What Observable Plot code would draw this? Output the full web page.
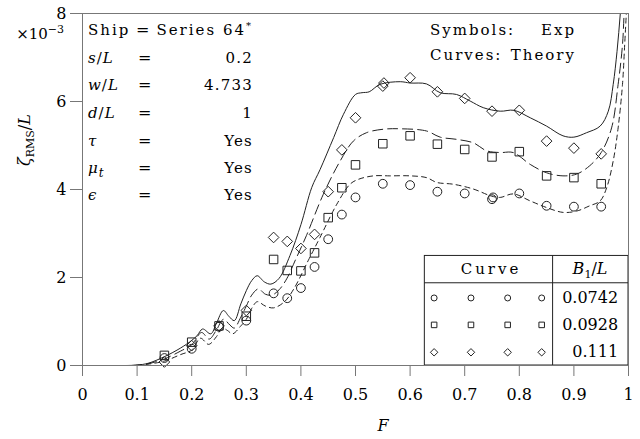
<!DOCTYPE html>
<html><head><meta charset="utf-8">
<script src="https://cdn.jsdelivr.net/npm/d3@7"></script>
<script src="https://cdn.jsdelivr.net/npm/@observablehq/plot@0.6"></script>
<style>body{margin:0;background:#fff} svg{display:block}</style>
</head><body><div id="chart"></div>
<script>
// ---- tick values / labels ----
const xTicks = [0, 0.1, 0.2, 0.3, 0.4, 0.5, 0.6, 0.7, 0.8, 0.9, 1];
const xTickLabels = ["0", "0.1", "0.2", "0.3", "0.4", "0.5", "0.6", "0.7", "0.8", "0.9", "1"];
const yTicks = [0, 2, 4, 6, 8];
const yTickLabels = ["0", "2", "4", "6", "8"];

// ---- legend (B1/L per series) ----
const seriesB1 = ["0.0742", "0.0928", "0.111"];
const seriesSymbols = ["circle", "square", "diamond2"];

// ---- experimental points (x 1e-3) ----
const expF_c = [0.15, 0.2, 0.25, 0.3, 0.35, 0.375, 0.4, 0.425, 0.45, 0.475, 0.5, 0.55, 0.6, 0.65, 0.7, 0.75, 0.752, 0.8, 0.85, 0.9, 0.95];
const expY_c = [0.17, 0.38, 0.88, 1.02, 1.64, 1.53, 1.76, 2.24, 2.87, 3.43, 3.82, 4.13, 4.10, 3.95, 3.91, 3.78, 3.82, 3.91, 3.63, 3.61, 3.61];
const expF_s = [0.15, 0.2, 0.25, 0.3, 0.35, 0.375, 0.4, 0.425, 0.45, 0.475, 0.5, 0.55, 0.6, 0.65, 0.7, 0.75, 0.8, 0.85, 0.9, 0.95];
const expY_s = [0.23, 0.53, 0.90, 1.12, 2.41, 2.16, 2.15, 2.56, 3.36, 4.04, 4.56, 5.04, 5.22, 5.03, 4.91, 4.74, 4.86, 4.31, 4.27, 4.13];
const expF_d = [0.15, 0.2, 0.25, 0.3, 0.35, 0.375, 0.4, 0.425, 0.45, 0.475, 0.5, 0.55, 0.552, 0.6, 0.65, 0.7, 0.75, 0.8, 0.85, 0.9, 0.95];
const expY_d = [0.08, 0.45, 0.90, 1.25, 2.91, 2.82, 2.66, 2.98, 3.95, 4.90, 5.63, 6.35, 6.42, 6.54, 6.22, 6.07, 5.78, 5.80, 5.10, 4.94, 4.81];

// ---- theory curves (x 1e-3) ----
const thF_c = [0.1, 0.12, 0.15, 0.18, 0.2, 0.216, 0.231, 0.245, 0.256, 0.265, 0.275, 0.29, 0.3, 0.31, 0.32, 0.335, 0.35, 0.37, 0.387, 0.414, 0.435, 0.466, 0.49, 0.505, 0.533, 0.563, 0.6, 0.63, 0.649, 0.679, 0.716, 0.749, 0.765, 0.789, 0.82, 0.85, 0.88, 0.905, 0.929, 0.948, 0.96, 0.972, 0.981, 0.989, 0.993, 0.996, 0.998];
const thY_c = [0, 0.03, 0.1, 0.25, 0.35, 0.62, 0.48, 0.65, 0.85, 0.8, 0.72, 0.9, 1.05, 1.3, 1.45, 1.35, 1.31, 1.45, 1.74, 2.4, 2.91, 3.67, 4.12, 4.23, 4.31, 4.31, 4.31, 4.27, 4.16, 4.12, 4.01, 3.85, 3.82, 3.9, 3.74, 3.59, 3.48, 3.51, 3.63, 3.74, 4.04, 4.65, 5.4, 6.39, 7.29, 8.0, 8.5];
const thF_s = [0.09, 0.1, 0.12, 0.15, 0.18, 0.2, 0.218, 0.232, 0.245, 0.258, 0.27, 0.278, 0.29, 0.3, 0.31, 0.322, 0.335, 0.347, 0.36, 0.374, 0.39, 0.41, 0.441, 0.472, 0.496, 0.52, 0.551, 0.582, 0.63, 0.655, 0.685, 0.716, 0.74, 0.765, 0.789, 0.82, 0.85, 0.88, 0.905, 0.929, 0.95, 0.969, 0.981, 0.989, 0.992, 0.995];
const thY_s = [0, 0.01, 0.04, 0.15, 0.33, 0.47, 0.75, 0.6, 0.8, 1.05, 0.92, 0.85, 1.1, 1.35, 1.6, 1.74, 1.62, 1.6, 1.72, 1.97, 2.4, 2.95, 3.89, 4.65, 5.1, 5.29, 5.37, 5.38, 5.33, 5.19, 5.14, 5.06, 4.88, 4.84, 4.84, 4.57, 4.38, 4.31, 4.35, 4.54, 4.84, 5.4, 6.39, 7.29, 8.0, 8.6];
const thF_d = [0.08, 0.1, 0.12, 0.15, 0.18, 0.2, 0.21, 0.22, 0.235, 0.245, 0.258, 0.268, 0.278, 0.29, 0.3, 0.31, 0.32, 0.333, 0.345, 0.36, 0.38, 0.4, 0.42, 0.435, 0.46, 0.478, 0.5, 0.512, 0.525, 0.545, 0.582, 0.6, 0.63, 0.655, 0.685, 0.71, 0.734, 0.765, 0.79, 0.82, 0.85, 0.88, 0.9, 0.923, 0.948, 0.963, 0.972, 0.979, 0.985, 0.99];
const thY_d = [0, 0.01, 0.05, 0.2, 0.4, 0.57, 0.68, 0.83, 0.72, 0.95, 1.25, 1.12, 1.02, 1.4, 1.7, 1.93, 2.04, 1.9, 1.85, 1.98, 2.5, 3.2, 4.05, 4.45, 5.18, 5.71, 6.16, 6.2, 6.22, 6.39, 6.45, 6.42, 6.4, 6.2, 6.16, 6.01, 5.86, 5.78, 5.8, 5.63, 5.44, 5.22, 5.19, 5.29, 5.44, 5.78, 6.39, 7.14, 8.0, 8.8];

const pts = (F, Y) => F.map((f, i) => ({F: f, y: Y[i]}));
const ink = "#222", axisGray = "#777";
const SERIF = "'DejaVu Serif', 'Liberation Serif', serif";
const legRows = [1.535, 0.923, 0.30];
const legCols = [0.644, 0.7115, 0.7787, 0.841];
const legSym = seriesSymbols.flatMap((s, r) => legCols.map(c => ({F: c, y: legRows[r], s})));

const chart = Plot.plot({
  width: 640, height: 439,
  marginLeft: 82, marginRight: 12, marginTop: 13, marginBottom: 74,
  style: {fontFamily: SERIF, fontSize: "16px", color: "black", background: "white"},
  x: {domain: [0, 1]},
  y: {domain: [0, 8]},
  marks: [
    Plot.axisX({ticks: xTicks, tickFormat: (d) => xTickLabels[xTicks.indexOf(d)], tickSize: 11, tickPadding: 12, stroke: axisGray, label: null, fontSize: 16}),
    Plot.axisY({ticks: yTicks, tickFormat: (d) => yTickLabels[yTicks.indexOf(d)], tickSize: 12, tickPadding: 4, stroke: axisGray, label: null, fontSize: 16}),
    Plot.line(pts(thF_c, thY_c), {x: "F", y: "y", curve: "catmull-rom", clip: true, stroke: ink, strokeWidth: 1, strokeDasharray: "5,4"}),
    Plot.line(pts(thF_s, thY_s), {x: "F", y: "y", curve: "catmull-rom", clip: true, stroke: ink, strokeWidth: 1, strokeDasharray: "10,5"}),
    Plot.line(pts(thF_d, thY_d), {x: "F", y: "y", curve: "catmull-rom", clip: true, stroke: ink, strokeWidth: 1}),
    Plot.dot(pts(expF_c, expY_c), {x: "F", y: "y", symbol: "circle", r: 4.4, stroke: ink, fill: "none", strokeWidth: 1}),
    Plot.dot(pts(expF_s, expY_s), {x: "F", y: "y", symbol: "square", r: 4.8, stroke: ink, fill: "none", strokeWidth: 1}),
    Plot.dot(pts(expF_d, expY_d), {x: "F", y: "y", symbol: "diamond2", r: 4.8, stroke: ink, fill: "none", strokeWidth: 1}),
    // legend table
    Plot.rect([0], {x1: 0.627, x2: 1, y1: 0, y2: 2.49, fill: "white", stroke: ink, strokeWidth: 1}),
    Plot.ruleY([1.88], {x1: 0.627, x2: 1, stroke: ink}),
    Plot.ruleX([0.861], {y1: 0, y2: 2.49, stroke: ink}),
    Plot.dot(legSym, {x: "F", y: "y", symbol: "s", r: (d) => d.s === "circle" ? 3.3 : d.s === "square" ? 3.6 : 4.1, stroke: ink, fill: "none", strokeWidth: 1}),
    Plot.text(seriesB1, {x: 0.981, y: (d, i) => legRows[i], text: (d) => d, textAnchor: "end", fontSize: 16, fill: "black"}),
    Plot.frame({stroke: axisGray})
  ]
});
document.getElementById("chart").appendChild(chart);

const svg = d3.select(chart);
function addText(x, y, parts, anchor = "start", opts = {}) {
  const t = svg.append("text").attr("x", x).attr("y", y)
    .attr("text-anchor", anchor).attr("font-family", SERIF)
    .attr("font-size", opts.size || 16).attr("fill", "black");
  if (opts.ls) t.attr("letter-spacing", opts.ls);
  if (opts.transform) t.attr("transform", opts.transform);
  for (const p of parts) {
    const s = t.append("tspan").text(p.t);
    if (p.i) s.attr("font-style", "italic");
    if (p.sub) s.attr("font-size", p.fs || 11).attr("baseline-shift", p.sub);
  }
  return t;
}
// parameter block (top-left)
const rowsY = [35, 63, 90, 118, 146, 173, 200];
const labelParts = [
  [{t: "Ship"}],
  [{t: "s", i: 1}, {t: "/"}, {t: "L", i: 1}],
  [{t: "w", i: 1}, {t: "/"}, {t: "L", i: 1}],
  [{t: "d", i: 1}, {t: "/"}, {t: "L", i: 1}],
  [{t: "τ", i: 1}],
  [{t: "μ", i: 1}, {t: "t", i: 1, sub: "-4", fs: 12}],
  [{t: "ϵ", i: 1}]
];
const valueParts = [
  [{t: "Series 64"}, {t: "*", sub: "6", fs: 10}],
  [{t: "0.2"}], [{t: "4.733"}], [{t: "1"}], [{t: "Yes"}], [{t: "Yes"}], [{t: "Yes"}]
];
rowsY.forEach((y, i) => {
  addText(88, y, labelParts[i], "start", {size: 15, ls: i === 0 ? "2px" : "1px"});
  addText(i === 0 ? 136 : 138, y, [{t: "="}], "start", {size: 16});
  addText(253, y, valueParts[i], "end", {size: 15, ls: i === 0 ? "2px" : "1.2px"});
});
// top-right note
addText(430, 35, [{t: "Symbols:"}], "start", {size: 15, ls: "2px"});
addText(576, 35, [{t: "Exp"}], "end", {size: 15, ls: "2px"});
addText(430, 60, [{t: "Curves:"}], "start", {size: 15, ls: "2px"});
addText(576, 60, [{t: "Theory"}], "end", {size: 15, ls: "2px"});
// legend header
addText(491, 274, [{t: "Curve"}], "middle", {size: 15, ls: "3px"});
addText(590, 274, [{t: "B", i: 1}, {t: "1", sub: "-4", fs: 11}, {t: "/"}, {t: "L", i: 1}], "middle", {size: 16});
// axis decorations
addText(64, 39, [{t: "×10"}, {t: "−3", sub: "6", fs: 11}], "end", {size: 15});
addText(383, 431, [{t: "F", i: 1}], "middle", {size: 16});
addText(0, 0, [{t: "ζ", i: 1}, {t: "RMS", sub: "-4", fs: 11}, {t: "/"}, {t: "L", i: 1}], "middle", {size: 16, transform: "translate(30,140) rotate(-90)"});
</script></body></html>
